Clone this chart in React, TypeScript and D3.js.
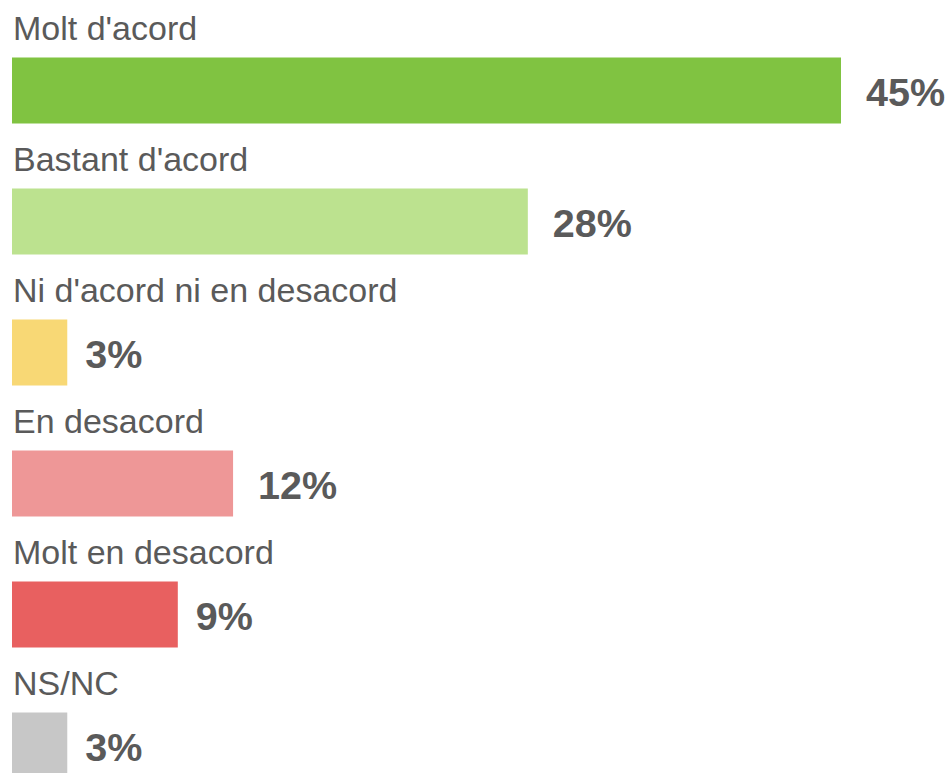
import { useEffect, useRef } from 'react';
import * as d3 from 'd3';

const categories = [
  'Molt d\'acord',
  'Bastant d\'acord',
  'Ni d\'acord ni en desacord',
  'En desacord',
  'Molt en desacord',
  'NS/NC'
];
const values = [45, 28, 3, 12, 9, 3];
const colors = ['#80c341', '#bce28f', '#f8d875', '#ee9797', '#e86060', '#c7c7c7'];

export default function App() {
  const svgRef = useRef<SVGSVGElement>(null);
  const width = 951;
  const height = 773;
  const rowStep = 131;
  const barTop = 57.5;
  const barHeight = 66;

  useEffect(() => {
    if (!svgRef.current) return;
    const svg = d3.select(svgRef.current);
    svg.selectAll('*').remove();

    const y = d3.scaleBand<string>()
      .domain(categories)
      .range([0, rowStep * categories.length])
      .padding(0);

    const x = d3.scaleLinear()
      .domain([0, 45])
      .range([12, 841]);

    const rows = svg.selectAll('g.row')
      .data(categories)
      .join('g')
      .attr('class', 'row')
      .attr('transform', d => `translate(0,${y(d)})`);

    // category label above each bar
    rows.append('text')
      .attr('x', 13)
      .attr('y', barTop - 18)
      .attr('fill', '#5a5a5a')
      .style('font-family', '"Liberation Sans", Arial, sans-serif')
      .style('font-size', '34px')
      .text(d => d);

    rows.append('rect')
      .attr('x', x(0))
      .attr('y', barTop)
      .attr('height', barHeight)
      .attr('width', (_, i) => x(values[i]) - x(0))
      .attr('fill', (_, i) => colors[i]);

    // value label right of the bar
    rows.append('text')
      .attr('x', (_, i) => x(values[i]) + (String(values[i]).length > 1 ? 25 : 18))
      .attr('y', barTop + barHeight / 2 + 15.5)
      .attr('fill', '#5a5a5a')
      .style('font-family', '"Liberation Sans", Arial, sans-serif')
      .style('font-size', '39.5px')
      .style('font-weight', 'bold')
      .text((_, i) => `${values[i]}%`);
  }, []);

  return (
    <svg
      ref={svgRef}
      width={width}
      height={height}
      viewBox={`0 0 ${width} ${height}`}
      style={{ position: 'absolute', left: 0, top: 0, background: '#fff' }}
    />
  );
}
